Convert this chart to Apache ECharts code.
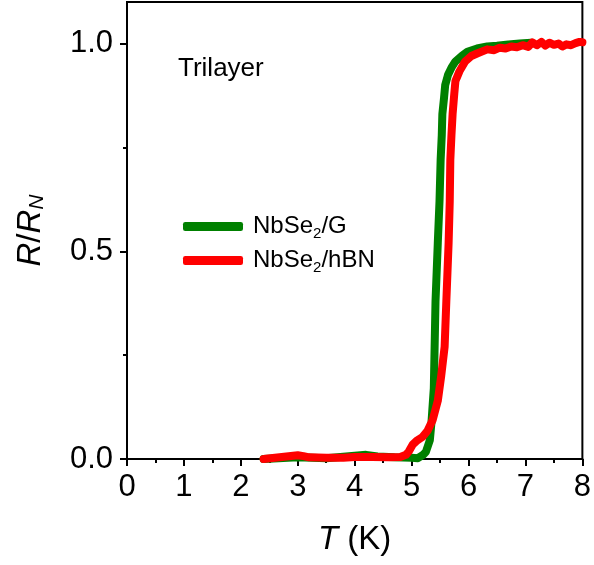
<!DOCTYPE html>
<html>
<head>
<meta charset="utf-8">
<script src="https://cdn.jsdelivr.net/npm/echarts@6/dist/echarts.min.js"></script>
<style>html,body{margin:0;padding:0;background:#fff;}#c{width:594px;height:565px;}</style>
</head>
<body>
<div id="c"></div>
<script>
// NbSe2/G (green) : temperature (K) and R/RN
var tG = [2.40, 3.00, 3.50, 4.00, 4.20, 4.40, 4.70, 5.00, 5.11, 5.20, 5.25, 5.32, 5.35, 5.39, 5.40, 5.42, 5.44, 5.46, 5.49, 5.51, 5.53, 5.54, 5.57, 5.59, 5.64, 5.70, 5.77, 5.88, 5.98, 6.15, 6.33, 6.50, 6.70, 6.90, 7.10];
var rG = [0.000, 0.004, 0.002, 0.008, 0.010, 0.006, 0.004, 0.003, 0.002, 0.010, 0.017, 0.045, 0.090, 0.170, 0.240, 0.380, 0.450, 0.520, 0.620, 0.720, 0.780, 0.830, 0.870, 0.900, 0.925, 0.942, 0.957, 0.970, 0.980, 0.988, 0.993, 0.995, 0.998, 1.000, 1.002];
// NbSe2/hBN (red)
var tR = [2.40, 2.60, 2.80, 3.00, 3.10, 3.20, 3.50, 3.80, 4.00, 4.30, 4.60, 4.80, 4.90, 4.95, 5.02, 5.10, 5.19, 5.28, 5.37, 5.46, 5.52, 5.58, 5.61, 5.63, 5.65, 5.67, 5.68, 5.70, 5.72, 5.75, 5.77, 5.84, 5.94, 6.05, 6.15, 6.33, 6.45, 6.55, 6.65, 6.75, 6.85, 6.95, 7.05, 7.12, 7.20, 7.28, 7.35, 7.42, 7.50, 7.58, 7.65, 7.72, 7.80, 7.88, 7.95, 8.00];
var rR = [0.000, 0.003, 0.006, 0.009, 0.007, 0.004, 0.003, 0.003, 0.005, 0.005, 0.004, 0.005, 0.010, 0.018, 0.035, 0.045, 0.053, 0.068, 0.094, 0.140, 0.200, 0.270, 0.380, 0.450, 0.520, 0.620, 0.720, 0.780, 0.830, 0.880, 0.910, 0.933, 0.957, 0.970, 0.976, 0.986, 0.984, 0.990, 0.988, 0.993, 0.991, 0.996, 0.992, 1.003, 0.996, 1.004, 0.995, 1.002, 0.997, 1.000, 0.993, 0.998, 0.996, 1.001, 1.004, 1.003];
var seriesNames = ['NbSe2/G', 'NbSe2/hBN'];
var xTicks = [0, 1, 2, 3, 4, 5, 6, 7, 8];
var yTicks = [0, 0.5, 1.0];
var yMinorTicks = [0.25, 0.75];
var annotation = 'Trilayer';

function pairs(t, r) { return t.map(function (v, i) { return [v, r[i]]; }); }

var FONT = 'Liberation Sans';
var chart = echarts.init(document.getElementById('c'), null, { renderer: 'canvas' });
chart.setOption({
  animation: false,
  backgroundColor: '#fff',
  textStyle: { fontFamily: FONT },
  title: {
    text: annotation, left: 173, top: 51,
    textStyle: { fontFamily: FONT, fontSize: 26, fontWeight: 'normal', color: '#000' }
  },
  legend: {
    orient: 'vertical', left: 178, top: 207, itemGap: 5,
    itemWidth: 60, itemHeight: 9, icon: 'roundRect',
    data: seriesNames,
    formatter: function (n) {
      var rest = n.replace('NbSe2', '');
      return '{p|}{a|NbSe}{s|2}{a|' + rest + '}';
    },
    textStyle: {
      fontFamily: FONT, color: '#000',
      rich: {
        p: { width: 5, fontSize: 24, lineHeight: 26 },
        a: { fontSize: 24, lineHeight: 26, fontFamily: FONT, color: '#000' },
        s: { fontSize: 15, lineHeight: 15, padding: [14, 0, 0, 0], fontFamily: FONT, color: '#000' }
      }
    }
  },
  grid: { left: 127, right: 8, top: 2, bottom: 106, show: true, borderColor: '#000', borderWidth: 2, backgroundColor: 'transparent' },
  xAxis: {
    type: 'value', min: 0, max: 8, interval: 1,
    name: '{i|T} (K)', nameLocation: 'middle', nameGap: 64,
    nameTextStyle: {
      fontFamily: FONT, fontSize: 33, color: '#000',
      rich: { i: { fontStyle: 'italic', fontSize: 33, fontFamily: FONT, color: '#000' } }
    },
    axisLine: { onZero: false, lineStyle: { color: '#000', width: 2 } },
    axisTick: { inside: false, length: 7, lineStyle: { color: '#000', width: 2 } },
    minorTick: { show: true, splitNumber: 2, length: 4, lineStyle: { color: '#000', width: 2 } },
    axisLabel: { fontFamily: FONT, fontSize: 31, color: '#000', margin: 13,
      customValues: xTicks },
    splitLine: { show: false }
  },
  yAxis: [{
    type: 'value', min: 0, max: 1.1,
    name: '{i|R}/{i|R}{n|N}', nameLocation: 'middle', nameGap: 78,
    nameTextStyle: {
      fontFamily: FONT, fontSize: 33, color: '#000',
      rich: {
        i: { fontStyle: 'italic', fontSize: 33, lineHeight: 36, fontFamily: FONT, color: '#000' },
        n: { fontStyle: 'italic', fontSize: 21, lineHeight: 21, padding: [12, 0, 0, 0], fontFamily: FONT, color: '#000' }
      }
    },
    axisLine: { onZero: false, lineStyle: { color: '#000', width: 2 } },
    axisTick: { inside: false, length: 7, customValues: yTicks, lineStyle: { color: '#000', width: 2 } },
    axisLabel: { fontFamily: FONT, fontSize: 31, color: '#000', margin: 14, customValues: yTicks,
      formatter: function (v) { return v.toFixed(1); } },
    splitLine: { show: false }
  }, {
    type: 'value', min: 0, max: 1.1, position: 'left',
    axisLine: { show: false },
    axisTick: { inside: false, length: 4, customValues: yMinorTicks, lineStyle: { color: '#000', width: 2 } },
    axisLabel: { show: false },
    splitLine: { show: false }
  }],
  series: [{
    name: seriesNames[0], type: 'line', data: pairs(tG, rG), showSymbol: false, symbol: 'none',
    lineStyle: { color: '#008000', width: 8, join: 'round', cap: 'round' },
    itemStyle: { color: '#008000' }, z: 2
  }, {
    name: seriesNames[1], type: 'line', data: pairs(tR, rR), showSymbol: false, symbol: 'none',
    lineStyle: { color: '#ff0000', width: 8, join: 'round', cap: 'round' },
    itemStyle: { color: '#ff0000' }, z: 3
  }]
});
</script>
</body>
</html>
